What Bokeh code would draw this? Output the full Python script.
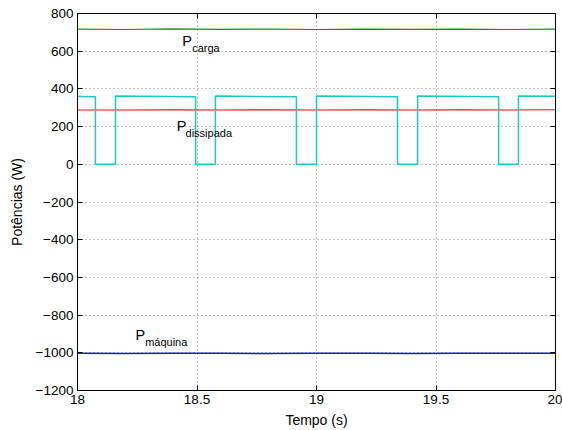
from bokeh.plotting import figure
from bokeh.models import LinearAxis, FixedTicker, Range1d
from bokeh.core.properties import value
from bokeh.embed import file_html
from bokeh.resources import INLINE

# ---- data ----
x_ticks = [18, 18.5, 19, 19.5, 20]
x_tick_labels = ["18", "18.5", "19", "19.5", "20"]
y_ticks = [-1200, -1000, -800, -600, -400, -200, 0, 200, 400, 600, 800]
y_tick_labels = ["\u22121200", "\u22121000", "\u2212800", "\u2212600", "\u2212400", "\u2212200",
                 "0", "200", "400", "600", "800"]

t_smooth = [18.0, 18.2, 18.4, 18.6, 18.8, 19.0, 19.2, 19.4, 19.6, 19.8, 20.0]
p_carga = [717, 715, 718, 716, 717, 715, 717, 716, 717, 715, 717]
p_diss_line = [288, 288, 289, 288, 289, 288, 289, 288, 289, 288, 289]
p_maquina = [-1003, -1004, -1002, -1003, -1004, -1002, -1003, -1004, -1002, -1003, -1003]

t_sq = [18.0, 18.075, 18.075, 18.159, 18.159, 18.494, 18.494, 18.577, 18.577, 18.916,
        18.916, 19.0, 19.0, 19.339, 19.339, 19.423, 19.423, 19.762, 19.762, 19.845,
        19.845, 20.0]
p_sq = [360, 358, 0, 0, 362, 358, 0, 0, 362, 358,
        0, 0, 362, 358, 0, 0, 362, 358, 0, 0,
        362, 361]

FONT = "Liberation Sans"

p = figure(width=562, height=430, output_backend="svg", toolbar_location=None,
           x_range=Range1d(18, 20), y_range=Range1d(-1200, 800),
           min_border_left=77, min_border_right=7, min_border_top=13, min_border_bottom=40)
p.background_fill_color = "white"
p.border_fill_color = "white"
p.outline_line_color = "black"
p.outline_line_width = 1

p.line(t_smooth, p_carga, line_color="#1a8c1a", line_width=1.2)
p.line(t_smooth, p_diss_line, line_color="#ee1111", line_width=1.1)
p.line(t_sq, p_sq, line_color="#1cc8c8", line_width=1.5)
p.line(t_smooth, p_maquina, line_color="#1a1aee", line_width=1.5)

# mirrored tick-only axes (MATLAB box style)
p.add_layout(LinearAxis(), "right")
p.add_layout(LinearAxis(), "above")

for ax in p.xaxis:
    ax.ticker = FixedTicker(ticks=x_ticks)
    ax.major_label_overrides = {t: l for t, l in zip(x_ticks, x_tick_labels)}
for ax in p.yaxis:
    ax.ticker = FixedTicker(ticks=y_ticks)
    ax.major_label_overrides = {t: l for t, l in zip(y_ticks, y_tick_labels)}

for ax in list(p.xaxis) + list(p.yaxis):
    ax.major_tick_in = 5
    ax.major_tick_out = 0
    ax.minor_tick_in = 0
    ax.minor_tick_out = 0
    ax.axis_line_color = "black"
    ax.major_tick_line_color = "black"
    ax.major_label_text_font = FONT
    ax.major_label_text_font_size = "13.5px"
    ax.major_label_text_color = "black"
    ax.axis_label_text_font = FONT
    ax.axis_label_text_font_size = "14px"
    ax.axis_label_text_font_style = "normal"
    ax.axis_label_text_color = "black"

for ax in (p.right[0], p.above[0]):
    ax.major_label_text_font_size = "0px"
    ax.major_label_standoff = 0
    ax.major_label_text_alpha = 0

p.below[0].axis_label = "Tempo (s)"
p.left[0].axis_label = "Potências (W)"
p.below[0].major_label_standoff = 4
p.left[0].major_label_standoff = 4
p.below[0].axis_label_standoff = 5
p.left[0].axis_label_standoff = 8

p.grid.grid_line_color = "#555555"
p.grid.grid_line_dash = "1 3"
p.grid.grid_line_alpha = 0.7
p.xgrid.ticker = FixedTicker(ticks=x_ticks)
p.ygrid.ticker = FixedTicker(ticks=y_ticks)

# labels
labels_main = [(18.438, 652, "P"), (18.415, 202, "P"), (18.243, -907, "P")]
labels_sub = [(18.480, 615, "carga"), (18.452, 164, "dissipada"), (18.283, -943, "máquina")]
p.text(x=[l[0] for l in labels_main], y=[l[1] for l in labels_main], text=[l[2] for l in labels_main],
       text_font=value(FONT), text_font_size="14.5px", text_color="black",
       text_baseline="alphabetic", text_align="left")
p.text(x=[l[0] for l in labels_sub], y=[l[1] for l in labels_sub], text=[l[2] for l in labels_sub],
       text_font=value(FONT), text_font_size="11px", text_color="black",
       text_baseline="alphabetic", text_align="left")

open("out.html", "w").write(file_html(p, INLINE))
